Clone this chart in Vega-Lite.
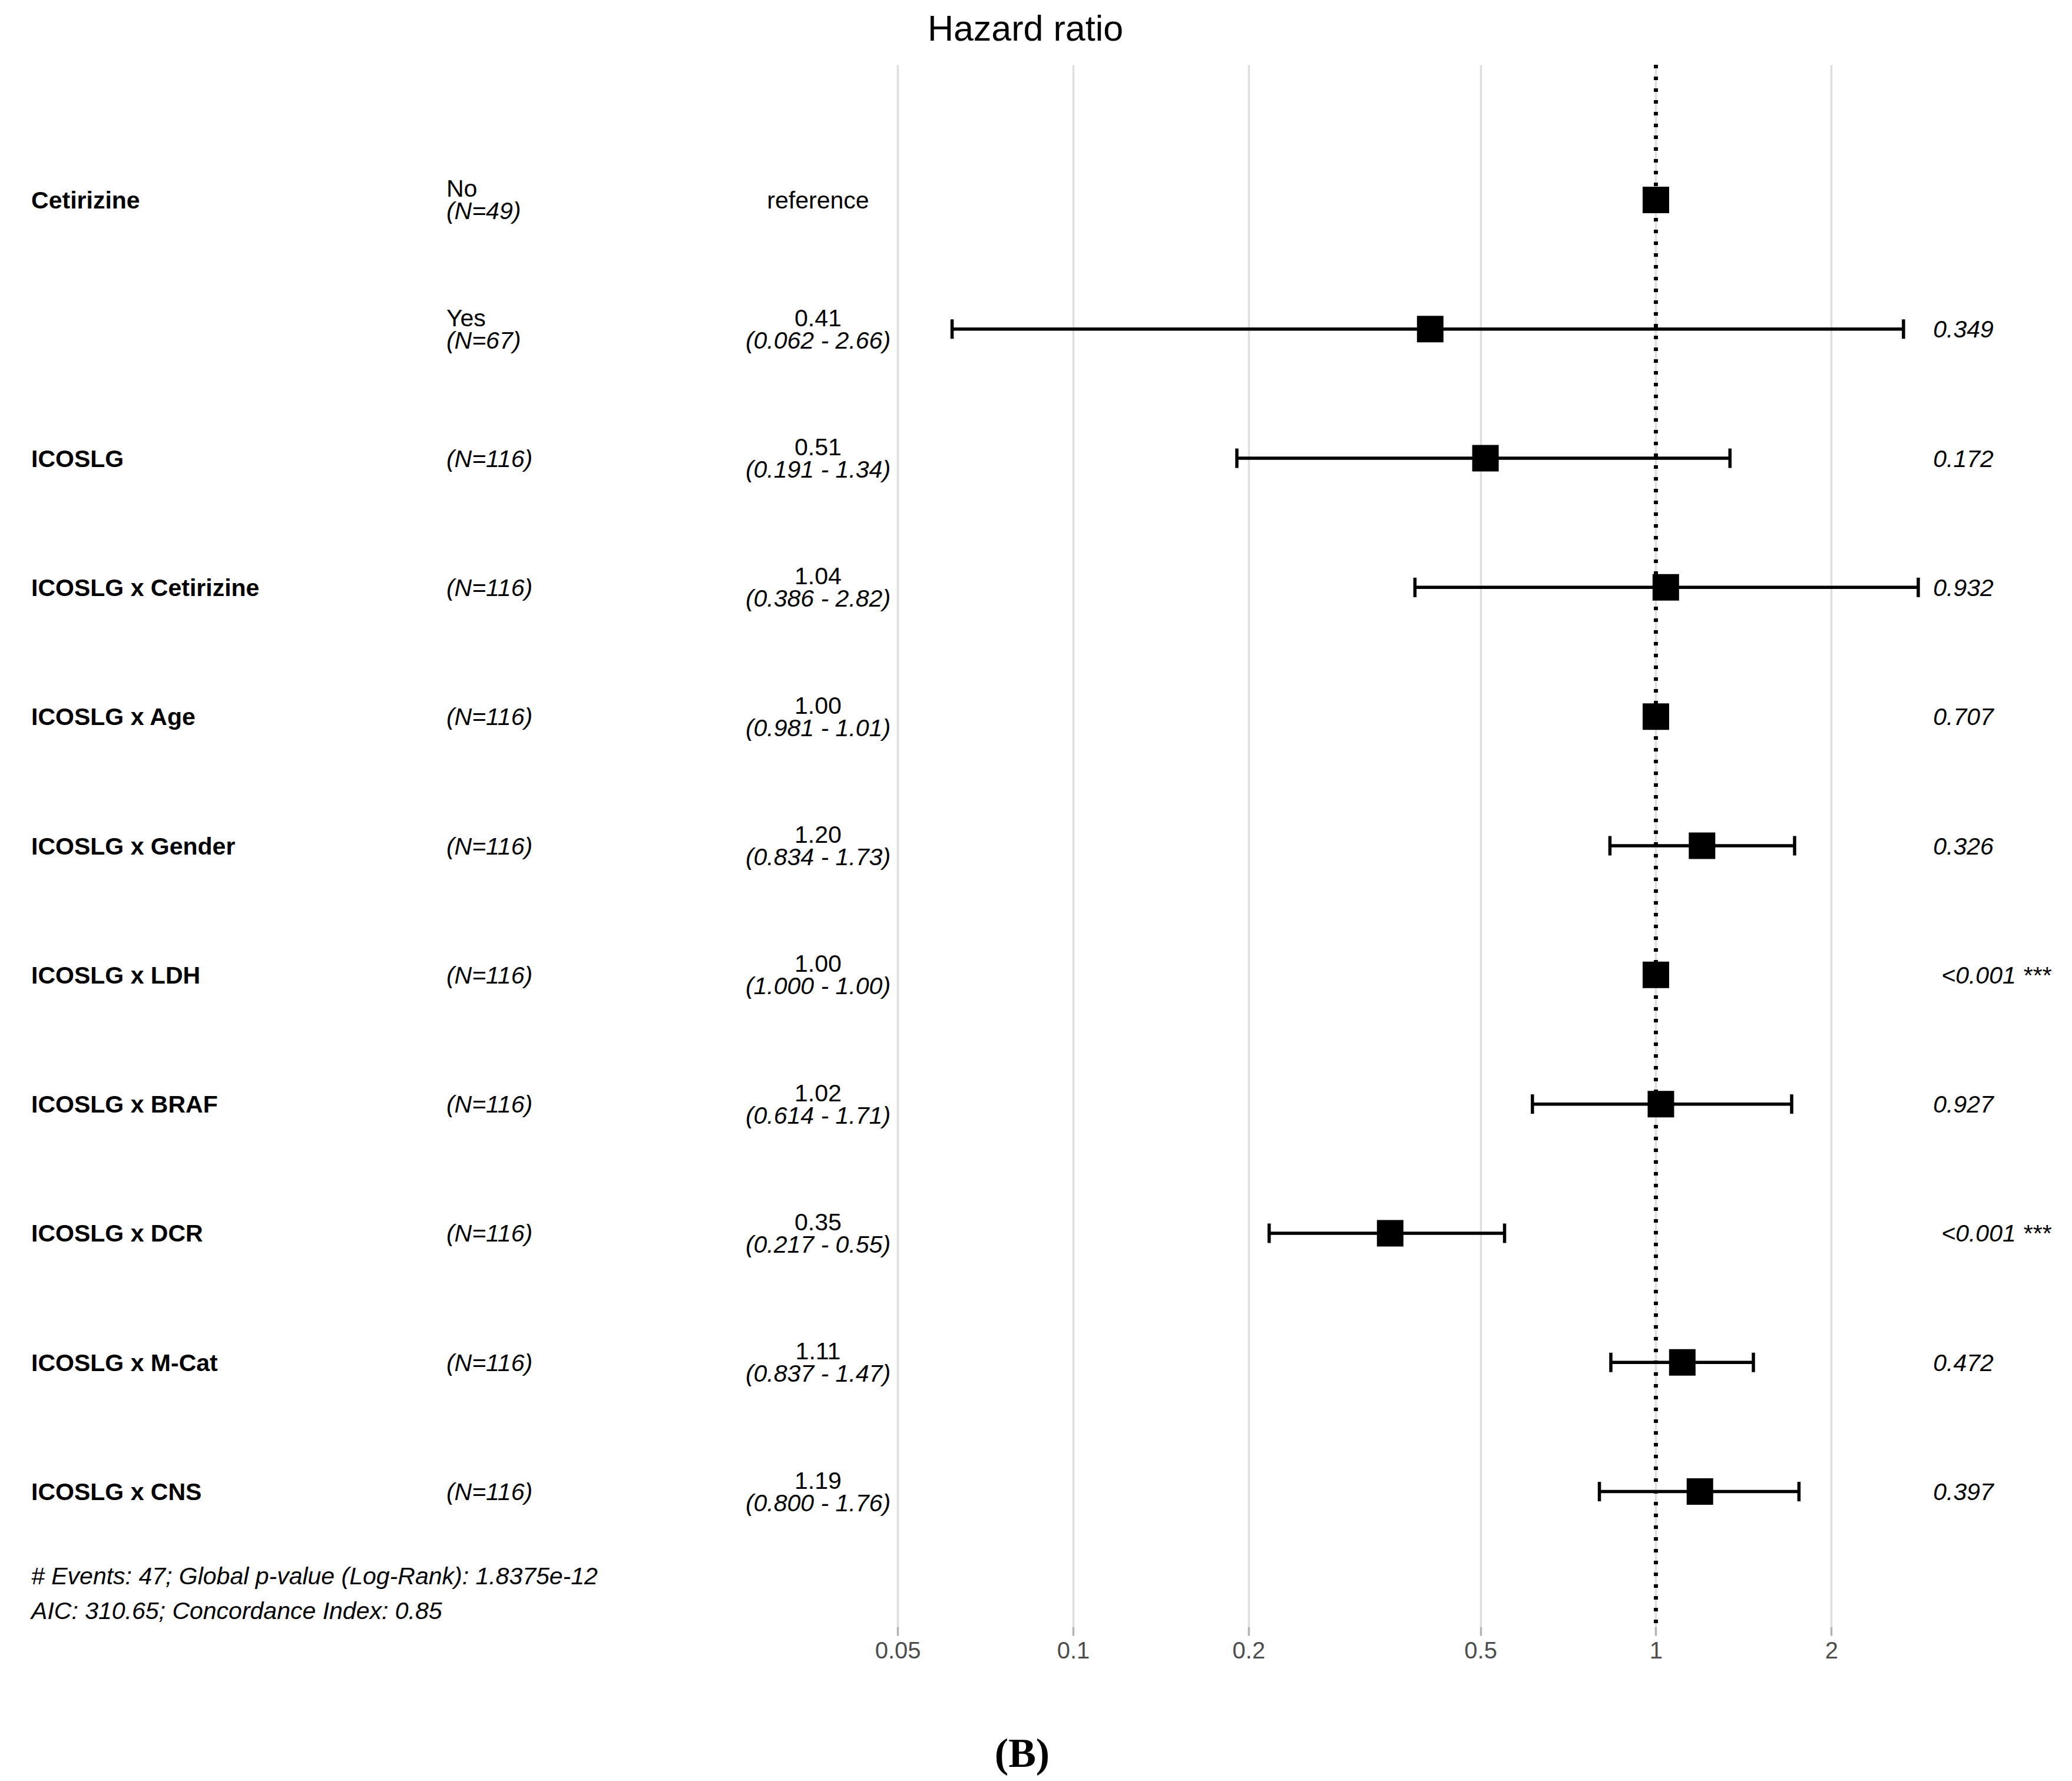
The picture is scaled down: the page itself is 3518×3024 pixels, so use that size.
{
  "$schema": "https://vega.github.io/schema/vega-lite/v6.json",
  "width": 3518,
  "height": 2652,
  "autosize": {"type": "none"},
  "padding": {"left": 0, "top": 110, "right": 0, "bottom": 262},
  "background": "white",
  "config": {
    "view": {"stroke": null},
    "font": "Liberation Sans",
    "text": {"font": "Liberation Sans", "fontSize": 41, "color": "black"}
  },
  "title": {
    "text": "Hazard ratio",
    "font": "Liberation Sans",
    "fontSize": 61,
    "fontWeight": "normal",
    "color": "black",
    "anchor": "middle",
    "baseline": "alphabetic",
    "offset": -23,
    "dx": -18
  },
  "datasets": {
    "rows": [
      {"key": "Cetirizine: No", "var": "Cetirizine", "level": "No", "n": "(N=49)", "hr": "reference", "ci": "", "est": 1, "lo": null, "hi": null, "p": ""},
      {"key": "Cetirizine: Yes", "var": "", "level": "Yes", "n": "(N=67)", "hr": "0.41", "ci": "(0.062 - 2.66)", "est": 0.41, "lo": 0.062, "hi": 2.66, "p": "0.349"},
      {"key": "ICOSLG", "var": "ICOSLG", "level": "", "n": "(N=116)", "hr": "0.51", "ci": "(0.191 - 1.34)", "est": 0.51, "lo": 0.191, "hi": 1.34, "p": "0.172"},
      {"key": "ICOSLG x Cetirizine", "var": "ICOSLG x Cetirizine", "level": "", "n": "(N=116)", "hr": "1.04", "ci": "(0.386 - 2.82)", "est": 1.04, "lo": 0.386, "hi": 2.82, "p": "0.932"},
      {"key": "ICOSLG x Age", "var": "ICOSLG x Age", "level": "", "n": "(N=116)", "hr": "1.00", "ci": "(0.981 - 1.01)", "est": 1.0, "lo": 0.981, "hi": 1.01, "p": "0.707"},
      {"key": "ICOSLG x Gender", "var": "ICOSLG x Gender", "level": "", "n": "(N=116)", "hr": "1.20", "ci": "(0.834 - 1.73)", "est": 1.2, "lo": 0.834, "hi": 1.73, "p": "0.326"},
      {"key": "ICOSLG x LDH", "var": "ICOSLG x LDH", "level": "", "n": "(N=116)", "hr": "1.00", "ci": "(1.000 - 1.00)", "est": 1.0, "lo": 1.0, "hi": 1.0, "p": "<0.001 ***"},
      {"key": "ICOSLG x BRAF", "var": "ICOSLG x BRAF", "level": "", "n": "(N=116)", "hr": "1.02", "ci": "(0.614 - 1.71)", "est": 1.02, "lo": 0.614, "hi": 1.71, "p": "0.927"},
      {"key": "ICOSLG x DCR", "var": "ICOSLG x DCR", "level": "", "n": "(N=116)", "hr": "0.35", "ci": "(0.217 - 0.55)", "est": 0.35, "lo": 0.217, "hi": 0.55, "p": "<0.001 ***"},
      {"key": "ICOSLG x M-Cat", "var": "ICOSLG x M-Cat", "level": "", "n": "(N=116)", "hr": "1.11", "ci": "(0.837 - 1.47)", "est": 1.11, "lo": 0.837, "hi": 1.47, "p": "0.472"},
      {"key": "ICOSLG x CNS", "var": "ICOSLG x CNS", "level": "", "n": "(N=116)", "hr": "1.19", "ci": "(0.800 - 1.76)", "est": 1.19, "lo": 0.8, "hi": 1.76, "p": "0.397"}
    ],
    "notes": [
      {"id": "summary", "note": "# Events: 47; Global p-value (Log-Rank): 1.8375e-12\nAIC: 310.65; Concordance Index: 0.85"}
    ]
  },
  "layer": [
    {
      "data": {"name": "rows"},
      "encoding": {
        "y": {
          "field": "key",
          "type": "nominal",
          "sort": null,
          "axis": null,
          "scale": {
            "type": "band",
            "paddingInner": 0,
            "paddingOuter": 0.546,
            "domain": ["Cetirizine: No", "Cetirizine: Yes", "ICOSLG", "ICOSLG x Cetirizine", "ICOSLG x Age", "ICOSLG x Gender", "ICOSLG x LDH", "ICOSLG x BRAF", "ICOSLG x DCR", "ICOSLG x M-Cat", "ICOSLG x CNS"]
          }
        }
      },
      "layer": [
        {
          "mark": {"type": "rule", "color": "black", "strokeWidth": 6, "strokeDash": [6, 14]},
          "encoding": {"x": {"datum": 1, "type": "quantitative"}, "y": null}
        },
        {
          "transform": [{"filter": "isValid(datum.lo)"}],
          "mark": {"type": "rule", "color": "black", "strokeWidth": 5.5},
          "encoding": {
            "x": {"field": "lo", "type": "quantitative"},
            "x2": {"field": "hi"}
          }
        },
        {
          "transform": [{"filter": "isValid(datum.lo)"}],
          "mark": {"type": "tick", "orient": "vertical", "color": "black", "opacity": 1, "size": 33, "thickness": 5.5},
          "encoding": {"x": {"field": "lo", "type": "quantitative"}}
        },
        {
          "transform": [{"filter": "isValid(datum.hi)"}],
          "mark": {"type": "tick", "orient": "vertical", "color": "black", "opacity": 1, "size": 33, "thickness": 5.5},
          "encoding": {"x": {"field": "hi", "type": "quantitative"}}
        },
        {
          "mark": {"type": "point", "shape": "square", "filled": true, "color": "black", "opacity": 1, "size": 2025, "strokeWidth": 0},
          "encoding": {
            "x": {
              "field": "est",
              "type": "quantitative",
              "scale": {"type": "log", "domain": [0.0014413, 5.1762], "nice": false, "zero": false},
              "axis": {
                "values": [0.05, 0.1, 0.2, 0.5, 1, 2],
                "format": "~g",
                "domain": false,
                "grid": true,
                "gridColor": "#dedede",
                "gridWidth": 3.5,
                "ticks": true,
                "tickColor": "#b3b3b3",
                "tickWidth": 3.5,
                "tickSize": 15,
                "labelFont": "Liberation Sans",
                "labelFontSize": 40,
                "labelColor": "#4d4d4d",
                "labelPadding": 6,
                "labelFlush": false,
                "labelOverlap": false,
                "title": "(B)",
                "titleFont": "Liberation Serif",
                "titleFontWeight": "bold",
                "titleFontSize": 70,
                "titleColor": "black",
                "titlePadding": 121,
                "titleX": 1735
              }
            }
          }
        },
        {
          "mark": {"type": "text", "align": "left", "baseline": "alphabetic", "dy": 14.5, "fontWeight": "bold"},
          "encoding": {"x": {"datum": 0.0016308, "type": "quantitative"}, "text": {"field": "var"}}
        },
        {
          "transform": [{"filter": "datum.level != ''"}],
          "mark": {"type": "text", "align": "left", "baseline": "alphabetic", "dy": -5},
          "encoding": {"x": {"datum": 0.0084075, "type": "quantitative"}, "text": {"field": "level"}}
        },
        {
          "transform": [{"filter": "datum.level != ''"}],
          "mark": {"type": "text", "align": "left", "baseline": "alphabetic", "dy": 33, "fontStyle": "italic"},
          "encoding": {"x": {"datum": 0.0084075, "type": "quantitative"}, "text": {"field": "n"}}
        },
        {
          "transform": [{"filter": "datum.level == ''"}],
          "mark": {"type": "text", "align": "left", "baseline": "alphabetic", "dy": 14.5, "fontStyle": "italic"},
          "encoding": {"x": {"datum": 0.0084075, "type": "quantitative"}, "text": {"field": "n"}}
        },
        {
          "transform": [{"filter": "datum.ci != ''"}],
          "mark": {"type": "text", "align": "center", "baseline": "alphabetic", "dy": -5},
          "encoding": {"x": {"datum": 0.036512, "type": "quantitative"}, "text": {"field": "hr"}}
        },
        {
          "transform": [{"filter": "datum.ci != ''"}],
          "mark": {"type": "text", "align": "center", "baseline": "alphabetic", "dy": 33, "fontStyle": "italic"},
          "encoding": {"x": {"datum": 0.036512, "type": "quantitative"}, "text": {"field": "ci"}}
        },
        {
          "transform": [{"filter": "datum.ci == ''"}],
          "mark": {"type": "text", "align": "center", "baseline": "alphabetic", "dy": 14.5},
          "encoding": {"x": {"datum": 0.036512, "type": "quantitative"}, "text": {"field": "hr"}}
        },
        {
          "transform": [{"filter": "indexof(datum.p, '<') != 0"}],
          "mark": {"type": "text", "align": "left", "baseline": "alphabetic", "dy": 14.5, "fontStyle": "italic"},
          "encoding": {"x": {"datum": 2.9902, "type": "quantitative"}, "text": {"field": "p"}}
        },
        {
          "transform": [{"filter": "indexof(datum.p, '<') == 0"}],
          "mark": {"type": "text", "align": "left", "baseline": "alphabetic", "dy": 14.5, "dx": 14, "fontStyle": "italic"},
          "encoding": {"x": {"datum": 2.9902, "type": "quantitative"}, "text": {"field": "p"}}
        }
      ]
    },
    {
      "data": {"name": "notes"},
      "mark": {"type": "text", "align": "left", "baseline": "alphabetic", "fontStyle": "italic", "lineBreak": "\n", "lineHeight": 59},
      "encoding": {
        "x": {"datum": 0.0016308, "type": "quantitative"},
        "y": {"field": "id", "type": "nominal", "axis": null, "scale": {"type": "point", "padding": 0, "align": 0.97285}},
        "text": {"field": "note"}
      }
    }
  ],
  "resolve": {"scale": {"y": "independent"}}
}
